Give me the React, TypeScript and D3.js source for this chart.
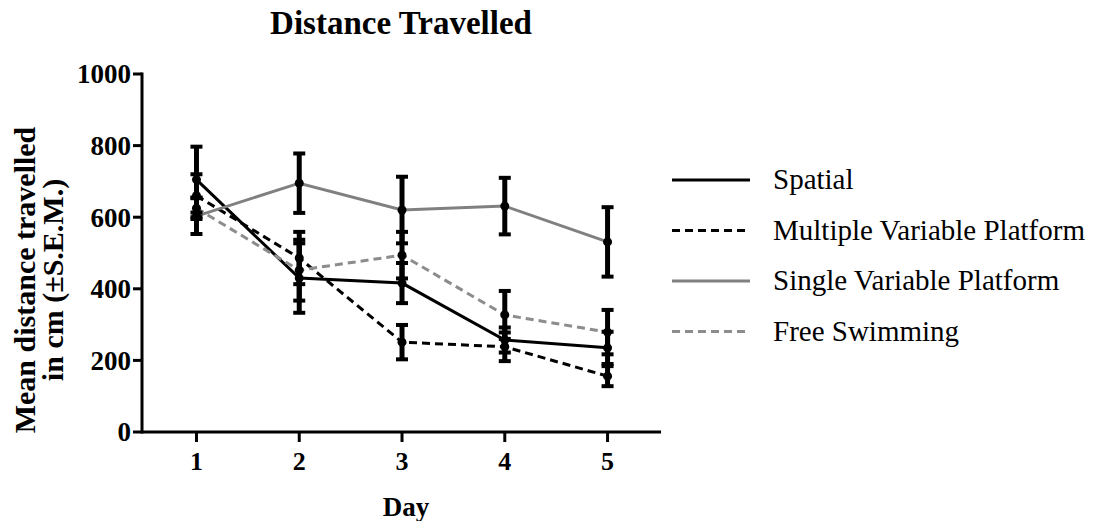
import * as d3 from 'd3';

const days = [1, 2, 3, 4, 5];
const yTicks = [0, 200, 400, 600, 800, 1000];

const spatialMean = [705, 430, 416, 257, 235];
const spatialSem = [92, 97, 56, 35, 45];
const multipleMean = [660, 486, 251, 238, 156];
const multipleSem = [60, 73, 48, 40, 28];
const singleMean = [603, 695, 620, 631, 531];
const singleSem = [50, 83, 93, 79, 97];
const freeMean = [625, 452, 494, 327, 279];
const freeSem = [30, 85, 65, 67, 62];

const seriesNames = ['Spatial', 'Multiple Variable Platform', 'Single Variable Platform', 'Free Swimming'];

const W = 1097;
const H = 521;
const font = '"Liberation Serif", "Times New Roman", serif';

export default function App() {
  const x = d3.scaleLinear().domain([0.47, 5.52]).range([142, 661]);
  const y = d3.scaleLinear().domain([0, 1000]).range([432, 74]);

  const series = [
    { name: seriesNames[0], mean: spatialMean, sem: spatialSem, color: '#000', dash: '' },
    { name: seriesNames[1], mean: multipleMean, sem: multipleSem, color: '#000', dash: '8,5' },
    { name: seriesNames[2], mean: singleMean, sem: singleSem, color: '#808080', dash: '' },
    { name: seriesNames[3], mean: freeMean, sem: freeSem, color: '#8c8c8c', dash: '8,5' },
  ];

  const line = d3.line<number>()
    .x((_, i) => x(days[i]))
    .y(d => y(d));

  const [x0, x1] = x.range();

  return (
    <svg width={W} height={H} style={{ position: 'absolute', left: 0, top: 0, background: '#fff' }}>
      <text x={401} y={34} textAnchor="middle" fontFamily={font} fontWeight="bold" fontSize={33}>
        Distance Travelled
      </text>

      {/* y axis */}
      <line x1={x0} x2={x0} y1={y(1000) - 1.5} y2={y(0) + 1.5} stroke="#000" strokeWidth={3} />
      {yTicks.map(t => (
        <g key={t}>
          <line x1={x0 - 9} x2={x0} y1={y(t)} y2={y(t)} stroke="#000" strokeWidth={3} />
          <text x={x0 - 11} y={y(t)} dy="0.35em" textAnchor="end" fontFamily={font} fontWeight="bold" fontSize={27}>
            {t}
          </text>
        </g>
      ))}

      {/* x axis */}
      <line x1={x0} x2={x1} y1={y(0)} y2={y(0)} stroke="#000" strokeWidth={3} />
      {days.map(d => (
        <g key={d}>
          <line x1={x(d)} x2={x(d)} y1={y(0)} y2={y(0) + 10} stroke="#000" strokeWidth={3} />
          <text x={x(d)} y={y(0) + 38} textAnchor="middle" fontFamily={font} fontWeight="bold" fontSize={26}>
            {d}
          </text>
        </g>
      ))}

      <text x={406} y={516} textAnchor="middle" fontFamily={font} fontWeight="bold" fontSize={27}>
        Day
      </text>

      <g transform="translate(35,280) rotate(-90)">
        <text x={0} y={0} textAnchor="middle" fontFamily={font} fontWeight="bold" fontSize={30}>
          Mean distance travelled
        </text>
        <text x={0} y={28} textAnchor="middle" fontFamily={font} fontWeight="bold" fontSize={30}>
          in cm (±S.E.M.)
        </text>
      </g>

      {/* lines */}
      {series.map(s => (
        <path key={s.name} d={line(s.mean) || ''} fill="none" stroke={s.color} strokeWidth={3} strokeDasharray={s.dash} />
      ))}

      {/* error bars */}
      {series.map(s => (
        <g key={s.name + '-err'}>
          {s.mean.map((m, i) => {
            const cx = x(days[i]);
            const top = y(m + s.sem[i]);
            const bot = y(m - s.sem[i]);
            return (
              <g key={i}>
                <line x1={cx} x2={cx} y1={top} y2={bot} stroke="#000" strokeWidth={5} />
                <line x1={cx - 6} x2={cx + 6} y1={top} y2={top} stroke="#000" strokeWidth={4} />
                <line x1={cx - 6} x2={cx + 6} y1={bot} y2={bot} stroke="#000" strokeWidth={4} />
              </g>
            );
          })}
        </g>
      ))}

      {/* points */}
      {series.map(s => (
        <g key={s.name + '-pts'}>
          {s.mean.map((m, i) => (
            <circle key={i} cx={x(days[i])} cy={y(m)} r={4.5} fill="#000" />
          ))}
        </g>
      ))}

      {/* legend */}
      {series.map((s, i) => (
        <g key={s.name + '-leg'} transform={`translate(672,${180 + i * 50.5})`}>
          <line x1={0} x2={78} y1={0} y2={0} stroke={s.color} strokeWidth={3} strokeDasharray={s.dash} />
          <text x={101} y={0} dy="0.32em" fontFamily={font} fontSize={29}>
            {s.name}
          </text>
        </g>
      ))}
    </svg>
  );
}
